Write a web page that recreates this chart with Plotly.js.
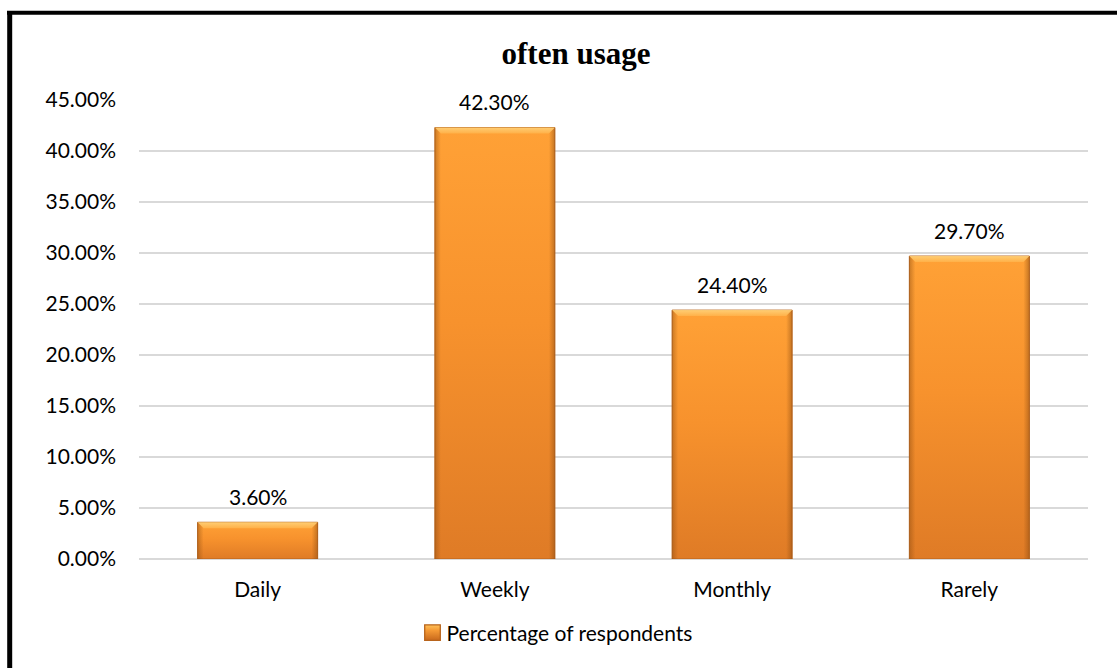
<!DOCTYPE html>
<html>
<head>
<meta charset="utf-8">
<script src="https://cdn.plot.ly/plotly-3.0.1.min.js"></script>
<style>
  html, body { margin: 0; padding: 0; background: #fff; }
  #chart { width: 1117px; height: 668px; }
</style>
</head>
<body>
<div id="chart"></div>
<script>
// Usage frequency survey results
const categories = ['Daily', 'Weekly', 'Monthly', 'Rarely'];
const percentages = [3.6, 42.3, 24.4, 29.7];
const seriesName = 'Percentage of respondents';
const yTicks = [0, 5, 10, 15, 20, 25, 30, 35, 40, 45];

const FONT = 'Lato, "Open Sans", sans-serif';
const FS = 21;

const trace = {
  type: 'bar',
  x: categories,
  y: percentages,
  name: seriesName,
  showlegend: true,
  marker: {
    color: '#F28E2C',
    line: { color: '#B8641C', width: 1 }
  },
  hoverinfo: 'x+y'
};

// value labels above each bar
const valueLabels = categories.map((c, i) => ({
  x: c,
  y: percentages[i],
  xref: 'x',
  yref: 'y',
  text: percentages[i].toFixed(2) + '%',
  showarrow: false,
  yanchor: 'middle',
  yshift: 26,
  font: { family: FONT, size: FS, color: '#000' }
}));

const layout = {
  width: 1117,
  height: 668,
  paper_bgcolor: '#fff',
  plot_bgcolor: '#fff',
  margin: { l: 139, r: 29, t: 99.5, b: 108.7 },
  title: {
    text: 'often usage',
    font: { family: '"Liberation Serif", "Times New Roman", serif', size: 31, color: '#000', weight: 'bold' },
    xref: 'container',
    x: 576 / 1117,
    xanchor: 'center',
    yref: 'container',
    y: 1 - 53 / 668,
    yanchor: 'middle'
  },
  bargap: 0.494,
  xaxis: {
    type: 'category',
    showgrid: false,
    showline: false,
    zeroline: false,
    ticks: '',
    ticklabelstandoff: 16,
    tickfont: { family: FONT, size: FS, color: '#000' },
    fixedrange: true
  },
  yaxis: {
    range: [0, 45],
    tickvals: yTicks,
    ticktext: yTicks.map(v => v.toFixed(2) + '%'),
    showgrid: true,
    gridcolor: '#D9D9D9',
    gridwidth: 1.5,
    zeroline: true,
    zerolinecolor: '#D9D9D9',
    zerolinewidth: 1.5,
    showline: false,
    ticks: '',
    ticklabelstandoff: 22,
    tickfont: { family: FONT, size: FS, color: '#000' },
    fixedrange: true
  },
  showlegend: true,
  legend: {
    orientation: 'h',
    xref: 'paper',
    x: (552 - 139) / 949,
    xanchor: 'center',
    yref: 'container',
    y: (668 - 633) / 668,
    yanchor: 'middle',
    font: { family: FONT, size: FS, color: '#000' },
    bgcolor: 'rgba(0,0,0,0)'
  },
  annotations: valueLabels,
  shapes: [
    // outer frame: left and top edges
    { type: 'line', xref: 'paper', yref: 'paper',
      x0: (9.7 - 139) / 949, x1: (9.7 - 139) / 949,
      y0: (559.3 - 12) / 459.8, y1: (559.3 - 700) / 459.8,
      line: { color: '#000', width: 5 } },
    { type: 'line', xref: 'paper', yref: 'paper',
      x0: (7 - 139) / 949, x1: (1130 - 139) / 949,
      y0: (559.3 - 12) / 459.8, y1: (559.3 - 12) / 459.8,
      line: { color: '#000', width: 4 } }
  ]
};

const NS = 'http://www.w3.org/2000/svg';

function addGradient(defs, id, x2, y2, stops) {
  const g = document.createElementNS(NS, 'linearGradient');
  g.setAttribute('id', id);
  g.setAttribute('x1', '0'); g.setAttribute('y1', '0');
  g.setAttribute('x2', x2); g.setAttribute('y2', y2);
  stops.forEach(([off, col, op]) => {
    const s = document.createElementNS(NS, 'stop');
    s.setAttribute('offset', off);
    s.setAttribute('stop-color', col);
    s.setAttribute('stop-opacity', op);
    g.appendChild(s);
  });
  defs.appendChild(g);
}

// shaded, bevelled look for the bars and the legend swatch
function shadeBars(gd) {
  const svgs = gd.querySelectorAll('svg.main-svg');
  const svg = svgs[0];
  let defs = svg.querySelector('defs');
  if (!defs) { defs = document.createElementNS(NS, 'defs'); svg.insertBefore(defs, svg.firstChild); }
  addGradient(defs, 'barBody', '0', '1', [
    ['0', '#FFA136', 1], ['0.45', '#F7922D', 1], ['1', '#DF7B26', 1]
  ]);
  addGradient(defs, 'barSides', '1', '0', [
    ['0', '#8A4A10', 0.45], ['0.05', '#8A4A10', 0], ['0.95', '#8A4A10', 0], ['1', '#8A4A10', 0.5]
  ]);
  addGradient(defs, 'barTop', '0', '1', [
    ['0', '#FFD27A', 1], ['1', '#FFB24A', 1]
  ]);
  addGradient(defs, 'swatch', '0', '1', [
    ['0', '#FFC25A', 1], ['0.35', '#F59A35', 1], ['1', '#C8681C', 1]
  ]);

  gd.querySelectorAll('.barlayer .point path').forEach(p => {
    p.style.fill = 'url(#barBody)';
    const sides = p.cloneNode();
    sides.style.fill = 'url(#barSides)';
    sides.style.stroke = 'none';
    p.parentNode.appendChild(sides);
    const b = p.getBBox();
    const d = 6;
    const top = document.createElementNS(NS, 'path');
    top.setAttribute('d',
      `M${b.x},${b.y}H${b.x + b.width}L${b.x + b.width - d},${b.y + d}H${b.x + d}Z`);
    top.style.fill = 'url(#barTop)';
    top.style.opacity = 0.9;
    p.parentNode.appendChild(top);
  });

  // legend swatch: slightly larger, closer to its label
  gd.querySelectorAll('.legend .legendpoints').forEach(g => {
    g.setAttribute('transform', 'scale(1.3)');
    g.querySelectorAll('path').forEach(p => {
      p.style.fill = 'url(#swatch)';
      p.style.stroke = '#B8641C';
    });
  });
}

Plotly.newPlot('chart', [trace], layout, { displayModeBar: false, staticPlot: true })
  .then(shadeBars);
</script>
</body>
</html>
